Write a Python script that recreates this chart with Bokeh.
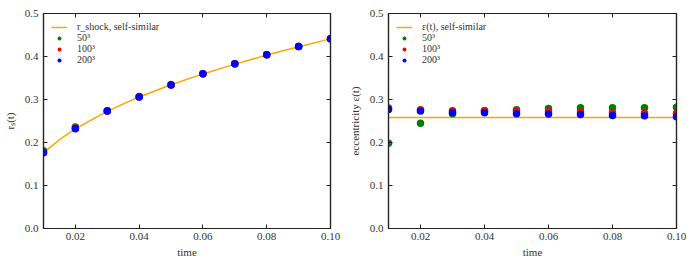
from bokeh.plotting import figure
from bokeh.models import Range1d, LinearAxis, FixedTicker, Legend, LegendItem
from bokeh.layouts import row
from bokeh.embed import file_html
from bokeh.resources import INLINE

# ---- data ----
times = [0.01, 0.02, 0.03, 0.04, 0.05, 0.06, 0.07, 0.08, 0.09, 0.10]

curve_t = [0.01, 0.0125, 0.015, 0.0175, 0.02, 0.025, 0.03, 0.035, 0.04, 0.05,
           0.06, 0.07, 0.08, 0.09, 0.10]
rs_self_similar = [0.1756, 0.1916, 0.2064, 0.2194, 0.2316, 0.2527, 0.2724, 0.2898,
                   0.3057, 0.3342, 0.3595, 0.3823, 0.4033, 0.4228, 0.4410]
rs_50 = [0.181, 0.236, 0.274, 0.307, 0.335, 0.360, 0.383, 0.404, 0.423, 0.441]
rs_100 = [0.177, 0.233, 0.273, 0.306, 0.334, 0.360, 0.383, 0.404, 0.423, 0.441]
rs_200 = [0.176, 0.232, 0.273, 0.306, 0.334, 0.360, 0.383, 0.404, 0.423, 0.441]

ecc_t = [0.01, 0.10]
ecc_self_similar = [0.258, 0.258]
ecc_50 = [0.198, 0.245, 0.267, 0.274, 0.276, 0.279, 0.281, 0.281, 0.281, 0.282]
ecc_100 = [0.280, 0.276, 0.274, 0.274, 0.273, 0.272, 0.271, 0.269, 0.268, 0.268]
ecc_200 = [0.277, 0.273, 0.270, 0.269, 0.267, 0.266, 0.265, 0.263, 0.262, 0.260]

x_ticks = [0.02, 0.04, 0.06, 0.08, 0.10]
x_tick_labels = ["0.02", "0.04", "0.06", "0.08", "0.10"]
y_ticks = [0.0, 0.1, 0.2, 0.3, 0.4, 0.5]
y_tick_labels = ["0.0", "0.1", "0.2", "0.3", "0.4", "0.5"]

FONT = "Liberation Serif, serif"
GREEN, RED, BLUE, ORANGE = "#008000", "#ff0000", "#0000ff", "#ffa500"
DARK = "#222222"


def make_fig(width, bl, br, ylabel, t_line, y_line, line_label, s50, s100, s200):
    p = figure(width=width, height=260, output_backend="svg", toolbar_location=None,
               x_range=Range1d(0.01, 0.10), y_range=Range1d(0.0, 0.5),
               min_border_left=bl, min_border_right=br, min_border_top=13,
               min_border_bottom=4)
    p.grid.visible = False
    p.outline_line_color = DARK
    p.outline_line_width = 1.2

    bottom = p.xaxis[0]
    left = p.yaxis[0]
    bottom.ticker = FixedTicker(ticks=x_ticks, minor_ticks=[])
    left.ticker = FixedTicker(ticks=y_ticks, minor_ticks=[])
    bottom.major_label_overrides = dict(zip(x_ticks, x_tick_labels))
    left.major_label_overrides = dict(zip(y_ticks, y_tick_labels))

    top = LinearAxis(ticker=FixedTicker(ticks=x_ticks, minor_ticks=[]))
    right = LinearAxis(ticker=FixedTicker(ticks=y_ticks, minor_ticks=[]))
    for ax in (top, right):
        ax.major_label_text_font_size = "1px"
        ax.major_label_text_color = None
        ax.major_label_standoff = 0
    p.add_layout(top, "above")
    p.add_layout(right, "right")

    for ax in (bottom, left, top, right):
        ax.axis_line_color = DARK
        ax.axis_line_width = 1.2
        ax.major_tick_in = 4
        ax.major_tick_out = 0
        ax.major_tick_line_color = DARK
        ax.minor_tick_line_color = None
    for ax in (bottom, left):
        ax.major_label_text_font = FONT
        ax.axis_label_text_font = FONT
        ax.axis_label_text_font_style = "normal"
        ax.axis_label_text_color = "#333333"
        ax.major_label_text_color = "#333333"
        ax.major_label_text_font_size = "11px"
        ax.axis_label_text_font_size = "11px"
    bottom.major_label_standoff = 4
    left.major_label_standoff = 5
    bottom.axis_label = "time"
    bottom.axis_label_standoff = 3
    left.axis_label = ylabel
    left.axis_label_standoff = 6

    ln = p.line(t_line, y_line, line_color=ORANGE, line_width=1.5)
    g = p.scatter(times, s50, size=7.5, fill_color=GREEN, line_color=None)
    r = p.scatter(times, s100, size=7.5, fill_color=RED, line_color=None)
    b = p.scatter(times, s200, size=7.5, fill_color=BLUE, line_color=None)

    legend = Legend(items=[LegendItem(label=line_label, renderers=[ln]),
                           LegendItem(label="50³", renderers=[g]),
                           LegendItem(label="100³", renderers=[r]),
                           LegendItem(label="200³", renderers=[b])],
                    location="top_left", border_line_color=None,
                    background_fill_alpha=0, label_text_font=FONT,
                    label_text_font_size="10px", label_text_color="#333333",
                    glyph_width=16, glyph_height=10, label_height=10,
                    spacing=0, padding=2, margin=8, label_standoff=10)
    p.add_layout(legend)
    return p


p1 = make_fig(345, 41, 15, "rₛ(t)", curve_t, rs_self_similar,
              "r_shock, self-similar", rs_50, rs_100, rs_200)
p2 = make_fig(345, 43, 14, "eccentricity ε(t)", ecc_t, ecc_self_similar,
              "ε(t), self-similar", ecc_50, ecc_100, ecc_200)

layout = row(p1, p2)
open("out.html", "w").write(file_html(layout, INLINE))
